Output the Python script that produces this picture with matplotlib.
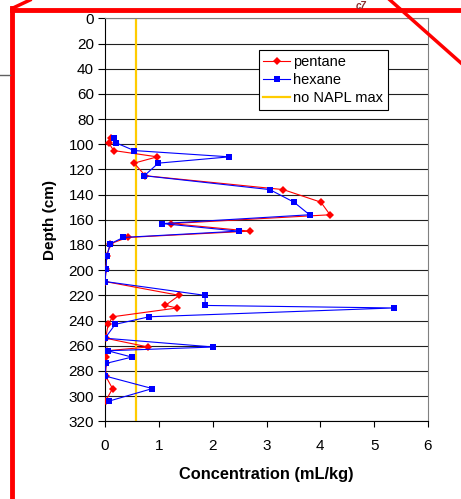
import matplotlib
matplotlib.use("Agg")
import matplotlib.pyplot as plt
from matplotlib.lines import Line2D

plt.rcParams['font.family'] = ['Liberation Sans', 'DejaVu Sans']

depth = [95, 99, 105, 110, 115, 125, 136, 146, 156, 163, 169, 174, 179, 189,
         199, 209, 220, 228, 230, 237, 243, 254, 261, 264, 269, 274, 284, 294, 304]
pentane = [0.12, 0.07, 0.16, 0.97, 0.54, 0.75, 3.31, 4.01, 4.18, 1.23, 2.69, 0.42,
           0.10, 0.03, 0.02, 0.0, 1.38, 1.12, 1.34, 0.14, 0.06, 0.01, 0.80, 0.03,
           0.02, 0.02, 0.01, 0.14, 0.01]
hexane = [0.16, 0.21, 0.54, 2.31, 0.99, 0.73, 3.06, 3.51, 3.80, 1.06, 2.48, 0.34,
          0.10, 0.03, 0.02, 0.0, 1.86, 1.86, 5.36, 0.82, 0.19, 0.0, 2.01, 0.05,
          0.50, 0.02, 0.0, 0.88, 0.07]
napl_max = 0.57
napl_depth = [0, 320]

xticks = [0, 1, 2, 3, 4, 5, 6]
yticks = list(range(0, 321, 20))

fig = plt.figure(figsize=(4.61, 4.99), dpi=100)
ax = fig.add_axes([0.2278, 0.1557, 0.7006, 0.8076])

ax.plot(pentane, depth, color='#FF0000', lw=0.8, marker='D', markersize=3.6,
        markeredgewidth=0, label='pentane', zorder=3)
ax.plot(hexane, depth, color='#0000FF', lw=0.8, marker='s', markersize=4.6,
        markeredgewidth=0, label='hexane', zorder=4)
ax.plot([napl_max, napl_max], napl_depth, color='#FFCC00', lw=1.6,
        label='no NAPL max', zorder=2)

ax.set_xlim(0, 6)
ax.set_ylim(320, 0)
ax.set_xticks(xticks)
ax.set_yticks(yticks)
ax.yaxis.grid(True, color='#202020', lw=0.8)
ax.set_axisbelow(True)
ax.tick_params(labelsize=11, width=0.8, direction='out', color='black')
ax.tick_params(axis='x', length=4, pad=9)
ax.tick_params(axis='y', length=5, pad=3)
for s in ['top', 'right']:
    ax.spines[s].set_color('#808080')
for s in ['left', 'bottom']:
    ax.spines[s].set_color('black')
for s in ax.spines.values():
    s.set_linewidth(0.8)

ax.set_xlabel('Concentration (mL/kg)', fontsize=11.8, fontweight='bold', labelpad=10)
ax.set_ylabel('Depth (cm)', fontsize=11, fontweight='bold', labelpad=8)

leg = ax.legend(loc='upper left', bbox_to_anchor=(0.4767, 0.9205), fontsize=10.5,
                frameon=True, fancybox=False, framealpha=1, edgecolor='black',
                borderpad=0.3, labelspacing=0.3, handlelength=1.85, handletextpad=0.2,
                borderaxespad=0)
leg.get_frame().set_linewidth(0.8)

# red frame / strike decorations of the source page
red = '#FF0000'
fig.add_artist(Line2D([11.5/461, 11.5/461], [0, 1 - 8/499], color=red, lw=3.5, transform=fig.transFigure))
fig.add_artist(Line2D([11.5/461, 1], [1 - 9.5/499, 1 - 9.5/499], color=red, lw=3.5, transform=fig.transFigure))
fig.add_artist(Line2D([13/461, 30/461], [1 - 8/499, 1], color=red, lw=2.5, transform=fig.transFigure))
fig.add_artist(Line2D([390/461, 1], [1, 1 - 63/499], color=red, lw=2.5, transform=fig.transFigure))
fig.add_artist(Line2D([0, 10/461], [1 - 75/499, 1 - 75/499], color='#606060', lw=1, transform=fig.transFigure))
fig.text(356/461, 1 - 1/499, 'c7', color='#8B3030', fontsize=7, fontweight='bold',
         style='italic', va='top')

fig.savefig('out.png', dpi=100)
